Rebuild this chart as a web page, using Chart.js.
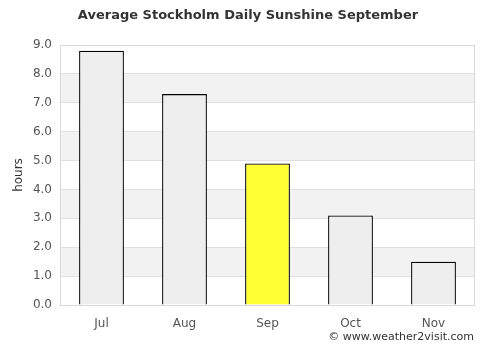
<!DOCTYPE html>
<html>
<head>
<meta charset="utf-8">
<script src="https://cdn.jsdelivr.net/npm/chart.js@4"></script>
<style>
  body { margin: 0; background: #fff; }
  #wrap { width: 500px; height: 350px; }
</style>
</head>
<body>
<div id="wrap"><canvas id="sunChart" width="500" height="350"></canvas></div>
<script>
const chartTitle = 'Average Stockholm Daily Sunshine September';
const months = ['Jul', 'Aug', 'Sep', 'Oct', 'Nov'];
const sunshineHours = [8.8, 7.3, 4.9, 3.1, 1.5];
const barColors = ['#eeeeee', '#eeeeee', '#ffff33', '#eeeeee', '#eeeeee'];
const yTicks = [0, 1, 2, 3, 4, 5, 6, 7, 8, 9];

// alternating grey bands, frame, title and credit line
const bandsPlugin = {
    id: 'bands',
    beforeDraw: function (chart) {
        const ctx = chart.ctx;
        const area = chart.chartArea;
        const y = chart.scales.y;
        ctx.save();
        ctx.fillStyle = '#f2f2f2';
        for (let i = 1; i < yTicks.length - 1; i += 2) {
            const top = y.getPixelForValue(yTicks[i + 1]);
            const bottom = y.getPixelForValue(yTicks[i]);
            ctx.fillRect(area.left, top, area.right - area.left, bottom - top);
        }
        ctx.restore();
    },
    afterDraw: function (chart) {
        const ctx = chart.ctx;
        const area = chart.chartArea;
        ctx.save();
        ctx.strokeStyle = '#d9d9d9';
        ctx.lineWidth = 1;
        ctx.strokeRect(area.left + 0.5, area.top + 0.5, area.right - area.left - 1, area.bottom - area.top);

        ctx.fillStyle = '#333';
        ctx.font = 'bold 13px "DejaVu Sans"';
        ctx.textAlign = 'center';
        ctx.textBaseline = 'middle';
        ctx.fillText(chartTitle, 248, 16);

        ctx.font = '11px "DejaVu Sans"';
        ctx.textAlign = 'right';
        ctx.fillText('\u00a9 www.weather2visit.com', 474, 337);
        ctx.restore();
    }
};

const ctx = document.getElementById('sunChart').getContext('2d');
new Chart(ctx, {
    type: 'bar',
    data: {
        labels: months,
        datasets: [{
            label: 'hours',
            data: sunshineHours,
            backgroundColor: barColors,
            borderColor: '#000000',
            borderWidth: 1.3,
            barPercentage: 0.54,
            categoryPercentage: 1
        }]
    },
    options: {
        responsive: false,
        animation: false,
        layout: { padding: { left: 0, right: 25, top: 45, bottom: 0 } },
        plugins: {
            legend: { display: false },
            tooltip: { enabled: false },
            title: { display: false }
        },
        scales: {
            x: {
                grid: { display: false },
                border: { display: false },
                ticks: {
                    color: '#555',
                    font: { family: 'DejaVu Sans', size: 12 },
                    padding: 4
                },
                afterFit: function (scale) { scale.height = 45; }
            },
            y: {
                min: 0,
                max: 9,
                afterBuildTicks: function (scale) {
                    scale.ticks = yTicks.map(v => ({ value: v }));
                },
                grid: { color: '#e0e0e0', drawTicks: false },
                border: { display: false },
                ticks: {
                    color: '#555',
                    font: { family: 'DejaVu Sans', size: 12 },
                    padding: 8,
                    callback: function (value) { return value.toFixed(1); }
                },
                title: {
                    display: true,
                    text: 'hours',
                    color: '#333',
                    font: { family: 'DejaVu Sans', size: 12 },
                    padding: { top: 12, bottom: 0 }
                },
                afterFit: function (scale) { scale.width = 60; }
            }
        }
    },
    plugins: [bandsPlugin]
});
</script>
</body>
</html>
